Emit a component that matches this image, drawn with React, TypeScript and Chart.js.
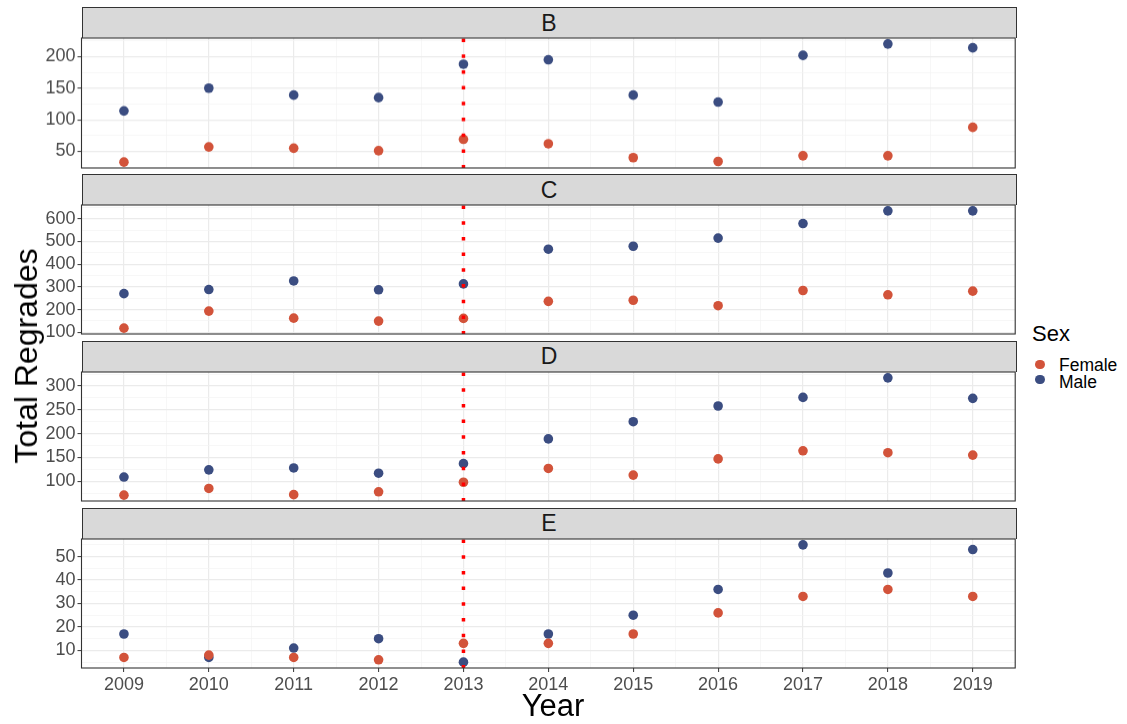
import React, { useEffect, useRef } from 'react';
import { Chart, registerables } from 'chart.js';

Chart.register(...registerables);

const FONT = "'Liberation Sans', Arial, Helvetica, sans-serif";

// ---- data ----
const years = [2009, 2010, 2011, 2012, 2013, 2014, 2015, 2016, 2017, 2018, 2019];
const panelNames = ['B', 'C', 'D', 'E'];

const femaleB = [33, 57, 55, 51, 69, 62, 40, 34, 43, 43, 88];
const maleB = [114, 150, 139, 135, 188, 195, 139, 128, 202, 220, 214];
const femaleC = [118, 193, 162, 149, 161, 236, 241, 217, 284, 265, 281];
const maleC = [270, 288, 326, 287, 313, 466, 479, 515, 579, 635, 635];
const femaleD = [71, 85, 72, 78, 98, 127, 113, 147, 164, 160, 155];
const maleD = [109, 124, 128, 117, 137, 189, 225, 258, 276, 317, 274];
const femaleE = [7, 8, 7, 6, 13, 13, 17, 26, 33, 36, 33];
const maleE = [17, 7, 11, 15, 5, 17, 25, 36, 55, 43, 53];

const ticksB = [50, 100, 150, 200];
const ticksC = [100, 200, 300, 400, 500, 600];
const ticksD = [100, 150, 200, 250, 300];
const ticksE = [10, 20, 30, 40, 50];

const markerYear = 2013;
const legendLabels = ['Female', 'Male'];
const seriesColors = ['#D2533A', '#3B4D81'];

const panels = [
  { name: panelNames[0], female: femaleB, male: maleB, ticks: ticksB },
  { name: panelNames[1], female: femaleC, male: maleC, ticks: ticksC },
  { name: panelNames[2], female: femaleD, male: maleD, ticks: ticksD },
  { name: panelNames[3], female: femaleE, male: maleE, ticks: ticksE },
];

// ---- layout ----
const PLOT_LEFT = 81.5;
const PLOT_RIGHT = 1016.5;
const FIRST_TOP = 38.4;
const PERIOD = 166.8;
const PLOT_H = 129.2;
const STRIP_H = 31.3;
const PADT = 6;
const CANVAS_W = 1020;
const XAXIS_H = 40;

const GRID_MAJOR = '#EBEBEB';
const GRID_MINOR = '#F3F3F3';

function Panel({ idx, isBottom }: { idx: number; isBottom: boolean }) {
  const ref = useRef<HTMLCanvasElement>(null);
  const p = panels[idx];
  const plotTop = FIRST_TOP + idx * PERIOD;
  const canvasH = PADT + PLOT_H + (isBottom ? XAXIS_H : PADT);

  useEffect(() => {
    const lo = Math.min(...p.female, ...p.male);
    const hi = Math.max(...p.female, ...p.male);
    const ex = (hi - lo) * 0.05;
    const yMin = lo - ex;
    const yMax = hi + ex;
    const step = p.ticks[1] - p.ticks[0];
    const yAll: number[] = [];
    for (let v = p.ticks[0] - step; v <= yMax + 1e-9; v += step / 2) {
      if (v >= yMin) yAll.push(v);
    }
    const yMajor = (v: number) => p.ticks.includes(v);

    const xMin = years[0] - (years[years.length - 1] - years[0]) * 0.05;
    const xMax = years[years.length - 1] + (years[years.length - 1] - years[0]) * 0.05;
    const xAll: number[] = [];
    for (let v = years[0] - 0.5; v <= xMax + 1e-9; v += 0.5) xAll.push(v);
    const xMajor = (v: number) => years.includes(v);

    const vlinePlugin = {
      id: 'vline',
      afterDatasetsDraw(chart: any) {
        const { ctx, chartArea, scales } = chart;
        const x = scales.x.getPixelForValue(markerYear);
        ctx.save();
        ctx.beginPath();
        ctx.rect(chartArea.left, chartArea.top, chartArea.right - chartArea.left, chartArea.bottom - chartArea.top);
        ctx.clip();
        ctx.strokeStyle = '#FF0000';
        ctx.lineWidth = 3.5;
        ctx.setLineDash([3.5, 12.2]);
        ctx.beginPath();
        ctx.moveTo(x, chartArea.top + 0.5);
        ctx.lineTo(x, chartArea.bottom);
        ctx.stroke();
        ctx.restore();
      },
    };
    const borderPlugin = {
      id: 'panelBorder',
      afterDraw(chart: any) {
        const { ctx, chartArea } = chart;
        ctx.save();
        ctx.strokeStyle = '#333333';
        ctx.lineWidth = 1.1;
        ctx.strokeRect(chartArea.left, chartArea.top, chartArea.right - chartArea.left, chartArea.bottom - chartArea.top);
        ctx.restore();
      },
    };

    const chart = new Chart(ref.current as HTMLCanvasElement, {
      type: 'scatter',
      data: {
        datasets: [
          {
            label: legendLabels[0],
            data: years.map((y, i) => ({ x: y, y: p.female[i] })),
            backgroundColor: seriesColors[0],
            borderWidth: 0,
            pointRadius: 4.8,
          },
          {
            label: legendLabels[1],
            data: years.map((y, i) => ({ x: y, y: p.male[i] })),
            backgroundColor: seriesColors[1],
            borderWidth: 0,
            pointRadius: 4.8,
          },
        ],
      },
      options: {
        animation: false,
        responsive: false,
        maintainAspectRatio: false,
        layout: {
          padding: { top: PADT, bottom: isBottom ? 0 : PADT, left: 0, right: CANVAS_W - PLOT_RIGHT },
        },
        plugins: {
          legend: { display: false },
          tooltip: { enabled: false },
          title: { display: false },
        },
        scales: {
          x: {
            type: 'linear',
            min: xMin,
            max: xMax,
            afterBuildTicks: (s: any) => {
              s.ticks = xAll.map((v) => ({ value: v }));
            },
            afterFit: (s: any) => {
              s.height = isBottom ? XAXIS_H : 0;
              s.paddingLeft = 0;
              s.paddingRight = 0;
              s.paddingTop = 0;
              s.paddingBottom = 0;
            },
            border: { display: false },
            grid: {
              drawTicks: isBottom,
              tickLength: 4,
              tickWidth: 1,
              color: (c: any) => (c.tick && xMajor(c.tick.value) ? GRID_MAJOR : GRID_MINOR),
              lineWidth: (c: any) => (c.tick && xMajor(c.tick.value) ? 1.2 : 0.7),
              tickColor: (c: any) => (c.tick && xMajor(c.tick.value) ? '#333333' : 'rgba(0,0,0,0)'),
            },
            ticks: {
              display: isBottom,
              autoSkip: false,
              maxRotation: 0,
              padding: 2,
              color: '#4D4D4D',
              font: { family: FONT, size: 18 },
              callback: (v: any) => (xMajor(Number(v)) ? String(v) : ''),
            },
          },
          y: {
            type: 'linear',
            min: yMin,
            max: yMax,
            afterBuildTicks: (s: any) => {
              s.ticks = yAll.map((v) => ({ value: v }));
            },
            afterFit: (s: any) => {
              s.width = PLOT_LEFT;
              s.paddingTop = 0;
              s.paddingBottom = 0;
              s.paddingLeft = 0;
              s.paddingRight = 0;
            },
            border: { display: false },
            grid: {
              drawTicks: true,
              tickLength: 4,
              tickWidth: 1,
              color: (c: any) => (c.tick && yMajor(c.tick.value) ? GRID_MAJOR : GRID_MINOR),
              lineWidth: (c: any) => (c.tick && yMajor(c.tick.value) ? 1.2 : 0.7),
              tickColor: (c: any) => (c.tick && yMajor(c.tick.value) ? '#333333' : 'rgba(0,0,0,0)'),
            },
            ticks: {
              autoSkip: false,
              padding: 2,
              color: '#4D4D4D',
              font: { family: FONT, size: 18 },
              callback: (v: any) => (yMajor(Number(v)) ? String(v) : ''),
            },
          },
        },
      },
      plugins: [vlinePlugin, borderPlugin],
    } as any);
    return () => chart.destroy();
  }, []);

  return (
    <>
      <div
        style={{
          position: 'absolute',
          left: PLOT_LEFT,
          top: plotTop - STRIP_H,
          width: PLOT_RIGHT - PLOT_LEFT,
          height: STRIP_H,
          boxSizing: 'border-box',
          background: '#D9D9D9',
          border: '1.1px solid #333333',
          borderBottom: 'none',
          display: 'flex',
          alignItems: 'center',
          justifyContent: 'center',
          fontFamily: FONT,
          fontSize: 23,
          color: '#1A1A1A',
        }}
      >
        {p.name}
      </div>
      <canvas
        ref={ref}
        width={CANVAS_W}
        height={canvasH}
        style={{ position: 'absolute', left: 0, top: plotTop - PADT, width: CANVAS_W, height: canvasH }}
      />
    </>
  );
}

export default function App() {
  return (
    <div style={{ position: 'absolute', left: 0, top: 0, width: 1127, height: 724, background: '#FFFFFF', overflow: 'hidden', fontFamily: FONT }}>
      {panels.map((_, i) => (
        <Panel key={i} idx={i} isBottom={i === panels.length - 1} />
      ))}
      <div
        style={{
          position: 'absolute',
          left: 26,
          top: 356,
          transform: 'translate(-50%, -50%) rotate(-90deg)',
          fontSize: 32,
          lineHeight: '32px',
          whiteSpace: 'nowrap',
          color: '#000',
        }}
      >
        Total Regrades
      </div>
      <div
        style={{
          position: 'absolute',
          left: (PLOT_LEFT + PLOT_RIGHT) / 2 + 4,
          top: 705,
          transform: 'translate(-50%, -50%)',
          fontSize: 31,
          lineHeight: '31px',
          whiteSpace: 'nowrap',
          color: '#000',
        }}
      >
        Year
      </div>
      <div style={{ position: 'absolute', left: 1032, top: 334, transform: 'translateY(-50%)', fontSize: 22, lineHeight: '22px', color: '#000' }}>
        Sex
      </div>
      {legendLabels.map((lab, i) => (
        <React.Fragment key={lab}>
          <div
            style={{
              position: 'absolute',
              left: 1040 - 4.8,
              top: 364.5 + i * 15 - 4.8,
              width: 9.6,
              height: 9.6,
              borderRadius: '50%',
              background: seriesColors[i],
            }}
          />
          <div
            style={{
              position: 'absolute',
              left: 1059,
              top: 365.5 + i * 17,
              transform: 'translateY(-50%)',
              fontSize: 17.5,
              lineHeight: '17.5px',
              color: '#000',
              whiteSpace: 'nowrap',
            }}
          >
            {lab}
          </div>
        </React.Fragment>
      ))}
    </div>
  );
}
